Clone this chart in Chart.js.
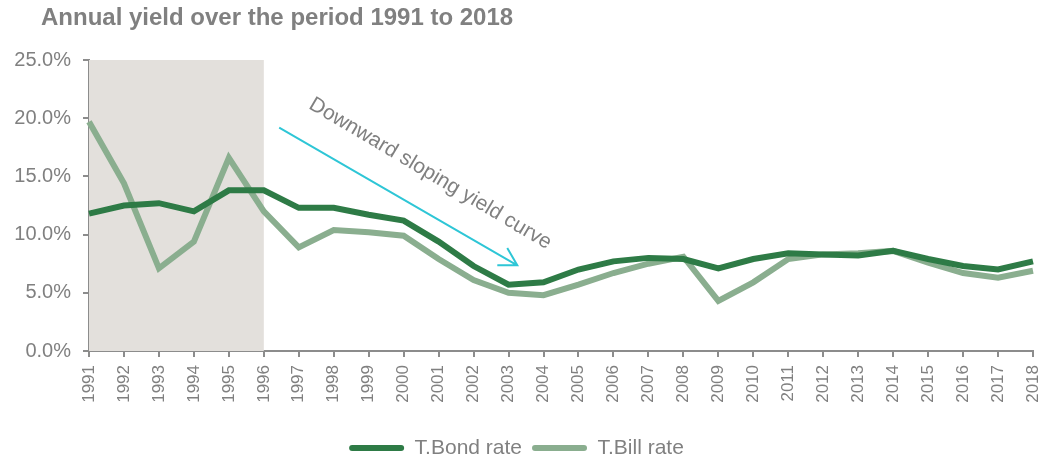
<!DOCTYPE html>
<html>
<head>
<meta charset="utf-8">
<script src="https://cdn.jsdelivr.net/npm/chart.js@4"></script>
<style>
  html, body { margin: 0; padding: 0; background: #fff; overflow: hidden; }
  #wrap { width: 1044px; height: 460px; }
</style>
</head>
<body>
<div id="wrap"><canvas id="chart" width="1044" height="460"></canvas></div>
<script>
// years on the x axis
var years = ['1991','1992','1993','1994','1995','1996','1997','1998','1999','2000',
             '2001','2002','2003','2004','2005','2006','2007','2008','2009','2010',
             '2011','2012','2013','2014','2015','2016','2017','2018'];
// yields in percent
var bondRate = [11.8, 12.5, 12.7, 12.0, 13.8, 13.8, 12.3, 12.3, 11.7, 11.2,
                9.4, 7.3, 5.7, 5.9, 7.0, 7.7, 8.0, 7.9, 7.1, 7.9,
                8.4, 8.3, 8.2, 8.6, 7.9, 7.3, 7.0, 7.7];
var billRate = [19.7, 14.4, 7.1, 9.4, 16.6, 12.0, 8.9, 10.4, 10.2, 9.9,
                7.9, 6.1, 5.0, 4.8, 5.7, 6.7, 7.5, 8.1, 4.3, 5.9,
                7.9, 8.3, 8.4, 8.6, 7.6, 6.7, 6.3, 6.9];
var yTicks = [0, 5, 10, 15, 20, 25];

var grey = '#808080';
var axisGrey = '#8c8c8c';
var font = '"Liberation Sans", Arial, sans-serif';

// grey box behind 1991-1996
var shadePlugin = {
    id: 'shade',
    afterLayout: function(chart) {
        // title starts a bit right of the canvas edge
        chart.titleBlock.left = 41;
    },
    beforeDatasetsDraw: function(chart) {
        var x = chart.scales.x, y = chart.scales.y, c = chart.ctx;
        var x0 = x.getPixelForValue(0), x1 = x.getPixelForValue(5);
        c.save();
        c.fillStyle = '#e3e0dc';
        c.fillRect(x0, y.getPixelForValue(25), x1 - x0, y.getPixelForValue(0) - y.getPixelForValue(25));
        c.restore();
    }
};

// arrow + label
var arrowPlugin = {
    id: 'arrowNote',
    afterDatasetsDraw: function(chart) {
        var x = chart.scales.x, y = chart.scales.y, c = chart.ctx;
        var sx = x.getPixelForValue(5.44), sy = y.getPixelForValue(19.2);
        var ex = x.getPixelForValue(12.25), ey = y.getPixelForValue(7.36);
        var ang = Math.atan2(ey - sy, ex - sx);
        c.save();
        c.strokeStyle = '#2ec6d6';
        c.lineWidth = 2;
        c.beginPath();
        c.moveTo(sx, sy);
        c.lineTo(ex, ey);
        c.moveTo(ex + 20 * Math.cos(ang + Math.PI - 0.52), ey + 20 * Math.sin(ang + Math.PI - 0.52));
        c.lineTo(ex, ey);
        c.lineTo(ex + 20 * Math.cos(ang + Math.PI + 0.52), ey + 20 * Math.sin(ang + Math.PI + 0.52));
        c.stroke();

        var tx = x.getPixelForValue(9.76), ty = y.getPixelForValue(15.24);
        c.translate(tx, ty);
        c.rotate(30.7 * Math.PI / 180);
        c.fillStyle = grey;
        c.font = '21px ' + font;
        c.textAlign = 'center';
        c.textBaseline = 'middle';
        c.fillText('Downward sloping yield curve', 0, 0);
        c.restore();
    }
};

var ctx = document.getElementById('chart').getContext('2d');
var chart = new Chart(ctx, {
    type: 'line',
    data: {
        labels: years,
        datasets: [{
            label: 'T.Bond rate',
            data: bondRate,
            borderColor: '#2e7b46',
            backgroundColor: '#2e7b46',
            borderWidth: 6,
            pointRadius: 0,
            tension: 0
        }, {
            label: 'T.Bill rate',
            data: billRate,
            borderColor: '#8aae8f',
            backgroundColor: '#8aae8f',
            borderWidth: 6,
            pointRadius: 0,
            tension: 0
        }]
    },
    options: {
        responsive: false,
        animation: false,
        layout: { padding: { left: 0, right: 11, top: 0, bottom: -8.5 } },
        plugins: {
            title: {
                display: true,
                text: 'Annual yield over the period 1991 to 2018',
                align: 'start',
                color: grey,
                font: { family: font, size: 24, weight: 'bold' },
                padding: { top: 4, bottom: 27.2 }
            },
            legend: {
                position: 'bottom',
                labels: {
                    color: grey,
                    font: { family: font, size: 21 },
                    boxWidth: 55,
                    boxHeight: 6,
                    padding: 10,
                    useBorderRadius: true,
                    borderRadius: 3,
                    generateLabels: function(chart) {
                        var items = Chart.defaults.plugins.legend.labels.generateLabels(chart);
                        items.forEach(function(it) {
                            it.fillStyle = it.strokeStyle;
                            it.lineWidth = 0;
                        });
                        return items;
                    }
                }
            },
            tooltip: { enabled: false }
        },
        scales: {
            x: {
                offset: false,
                grid: { drawOnChartArea: false, color: axisGrey, lineWidth: 2, tickLength: 6 },
                border: { color: axisGrey, width: 2 },
                ticks: {
                    color: grey,
                    font: { family: font, size: 17 },
                    minRotation: 90,
                    maxRotation: 90,
                    autoSkip: false,
                    padding: 8
                },
                afterFit: function(s) {
                    s.height = 76.5;
                    s.paddingLeft = 0;
                    s.paddingRight = 0;
                }
            },
            y: {
                min: 0,
                max: 25,
                afterBuildTicks: function(s) {
                    s.ticks = yTicks.map(function(v) { return { value: v }; });
                },
                grid: { drawOnChartArea: false, color: axisGrey, lineWidth: 2, tickLength: 6 },
                border: { color: axisGrey, width: 2 },
                ticks: {
                    color: grey,
                    font: { family: font, size: 20 },
                    padding: 12,
                    callback: function(v) { return v.toFixed(1) + '%'; }
                },
                afterFit: function(s) { s.width = 89; }
            }
        }
    },
    plugins: [shadePlugin, arrowPlugin]
});
</script>
</body>
</html>
